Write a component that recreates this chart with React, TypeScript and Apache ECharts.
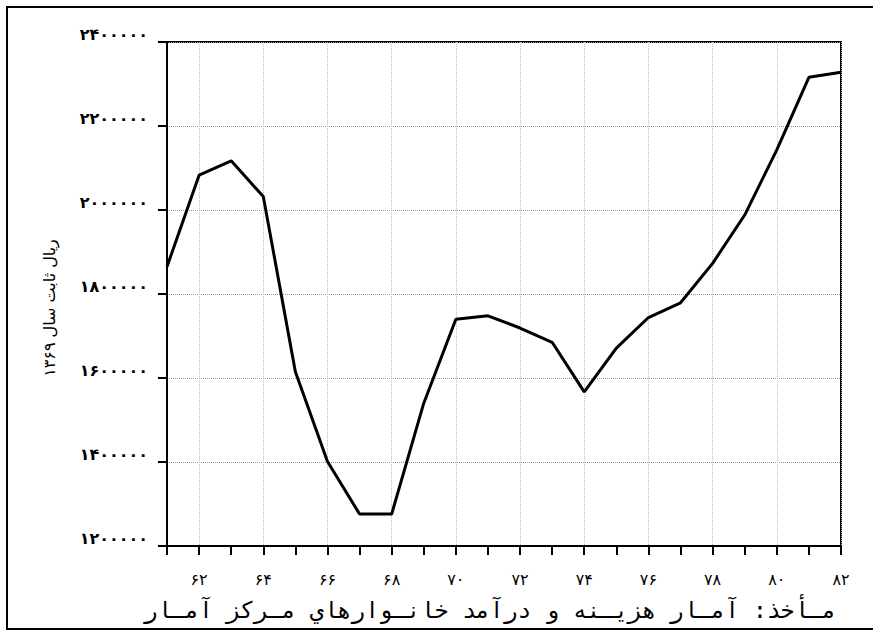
import React, { useEffect, useRef } from "react";
import * as echarts from "echarts";

const years = [61, 62, 63, 64, 65, 66, 67, 68, 69, 70, 71, 72, 73, 74, 75, 76, 77, 78, 79, 80, 81, 82];
const values = [
  1865000, 2083000, 2117000, 2032000, 1615000, 1401000, 1276000, 1276000, 1540000, 1740000, 1748000,
  1719000, 1685000, 1567000, 1671000, 1744000, 1779000, 1873000, 1988000, 2143000, 2316000, 2328000,
];
const yMin = 1200000;
const yMax = 2400000;
const yStep = 200000;
const yTitle = "ريال ثابت سال ۱۳۶۹";
const sourceText = "مـأخذ: آمـار هزيـنه و درآمد خانـوارهاي مـركز آمـار";

const PD = "۰۱۲۳۴۵۶۷۸۹";
const toPersian = (v: number | string) => String(v).replace(/\d/g, (d) => PD[Number(d)]);

export default function App() {
  const ref = useRef<HTMLDivElement>(null);
  useEffect(() => {
    if (!ref.current) return;
    const chart = echarts.init(ref.current, null, { renderer: "svg" });
    chart.setOption({
      animation: false,
      backgroundColor: "#fff",
      grid: {
        left: 167,
        right: 32,
        top: 42,
        bottom: 86,
        show: true,
        borderColor: "#000",
        borderWidth: 2,
        containLabel: false,
      },
      xAxis: {
        type: "category",
        data: years.map(String),
        boundaryGap: false,
        axisLine: { lineStyle: { color: "#000", width: 2 } },
        axisTick: { show: true, interval: 0, length: 9, lineStyle: { color: "#000", width: 2 } },
        axisLabel: {
          interval: (i: number) => i % 2 === 1,
          formatter: (v: string) => toPersian(v),
          color: "#000",
          fontFamily: "DejaVu Sans",
          fontSize: 16,
          margin: 25,
        },
        splitLine: {
          show: true,
          interval: (i: number) => i % 2 === 1,
          lineStyle: { color: "#bbb", type: "dotted", width: 1 },
        },
      },
      yAxis: {
        type: "value",
        min: yMin,
        max: yMax,
        interval: yStep,
        axisLine: { show: true, lineStyle: { color: "#000", width: 2 } },
        axisTick: { show: true, length: 9, lineStyle: { color: "#000", width: 2 } },
        axisLabel: {
          formatter: (v: number) => toPersian(v),
          color: "#000",
          fontFamily: "DejaVu Sans",
          fontSize: 16,
          fontWeight: "bold",
          margin: 19,
          verticalAlign: "bottom",
        },
        splitLine: { show: true, lineStyle: { color: "#999", type: "dotted", width: 1 } },
      },
      series: [
        {
          type: "line",
          data: values,
          symbol: "none",
          lineStyle: { color: "#000", width: 3 },
        },
      ],
      graphic: [
        {
          type: "rect",
          shape: { x: 7, y: 7, width: 900, height: 622 },
          style: { fill: "none", stroke: "#000", lineWidth: 2 },
          silent: true,
        },
        {
          type: "text",
          x: 49,
          y: 308,
          rotation: Math.PI / 2,
          style: {
            text: yTitle,
            fill: "#000",
            font: "16px 'DejaVu Sans'",
            textAlign: "center",
            textVerticalAlign: "middle",
          },
        },
        {
          type: "text",
          x: 836,
          y: 610,
          style: {
            text: sourceText,
            fill: "#000",
            font: "23px 'DejaVu Sans Mono'",
            textAlign: "right",
            textVerticalAlign: "middle",
          },
        },
      ],
    });
    return () => chart.dispose();
  }, []);
  return <div ref={ref} style={{ position: "fixed", left: 0, top: 0, width: 873, height: 632 }} />;
}
